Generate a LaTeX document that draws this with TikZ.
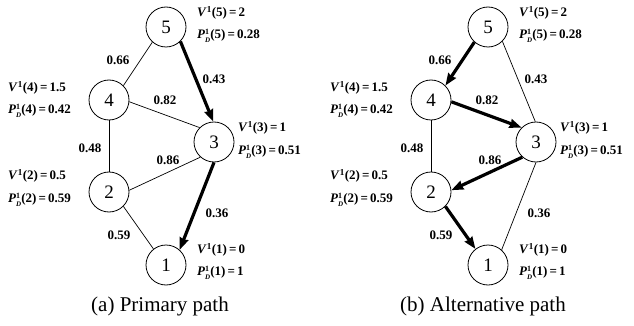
\documentclass[tikz,border=0pt]{standalone}
\usepackage{fontspec}
\setmainfont{Liberation Serif}
\usetikzlibrary{arrows.meta}

% node value labels: V^1(i) = v and P_D^1(i) = p
\newcommand{\Vlab}[2]{\textbf{\textit{V}\textsuperscript{1}(#1)\,=\,#2}}
\newcommand{\Plab}[2]{\textbf{\textit{P}\rlap{\raisebox{0.65ex}{\fontsize{8}{8}\selectfont 1}}\raisebox{-0.75ex}{\fontsize{7}{7}\selectfont\textit{D}}(#1)\,=\,#2}}

\tikzset{
  vertex/.style={circle, draw, line width=0.8pt, minimum size=40pt, inner sep=0pt,
                 font=\fontsize{19}{19}\selectfont},
  link/.style={line width=0.7pt},
  route/.style={line width=3.2pt, -{Stealth[length=12pt,width=9pt,inset=1pt]}},
  wlab/.style={font=\fontsize{13}{13}\selectfont\bfseries, inner sep=0pt},
  info/.style={anchor=west, font=\fontsize{13}{13}\selectfont, inner sep=0pt},
  caption/.style={font=\fontsize{21}{21}\selectfont, inner sep=0pt}
}

% the five-node network with its labels
\newcommand{\network}{%
  \node[vertex] (n5) at (166,27)  {5};
  \node[vertex] (n4) at (109,100) {4};
  \node[vertex] (n3) at (214,142) {3};
  \node[vertex] (n2) at (109,192) {2};
  \node[vertex] (n1) at (166,265) {1};
  \node[info] (v5) at (197,13)  {\Vlab{5}{2}};
  \node[info] (p5) at (197,36)  {\Plab{5}{0.28}};
  \node[info] (v4) at (8,88)    {\Vlab{4}{1.5}};
  \node[info] (p4) at (8,111)   {\Plab{4}{0.42}};
  \node[info] (v3) at (238,128) {\Vlab{3}{1}};
  \node[info] (p3) at (238,152) {\Plab{3}{0.51}};
  \node[info] (v2) at (8,176)   {\Vlab{2}{0.5}};
  \node[info] (p2) at (8,200)   {\Plab{2}{0.59}};
  \node[info] (v1) at (197,250) {\Vlab{1}{0}};
  \node[info] (p1) at (197,273) {\Plab{1}{1}};
  \node[wlab] (w54) at (118,60)  {0.66};
  \node[wlab] (w53) at (214,79)  {0.43};
  \node[wlab] (w43) at (165,100) {0.82};
  \node[wlab] (w42) at (90,148)  {0.48};
  \node[wlab] (w23) at (168,160) {0.86};
  \node[wlab] (w31) at (217,213) {0.36};
  \node[wlab] (w21) at (119,235) {0.59};
}

\begin{document}
\begin{tikzpicture}[x=1pt,y=-1pt]
\useasboundingbox (0,0) rectangle (634,326);

% (a) primary path
\begin{scope}[name prefix=a-]
  \network
  \draw[link] (n5.228) -- (n4.45);
  \draw[link] (n4.355) -- (n3.135);
  \draw[link] (n4.south) -- (n2.north);
  \draw[link] (n2.5) -- (n3.228);
  \draw[link] (n2.315) -- (n1.128);
  \draw[route] (n5.315) -- (n3.92);
  \draw[route] (n3.270) -- (n1.48);
\end{scope}
\node[caption] (capa) at (160,306) {(a) Primary path};

% (b) alternative path
\begin{scope}[xshift=322pt, name prefix=b-]
  \network
  \draw[link] (n5.315) -- (n3.92);
  \draw[link] (n4.south) -- (n2.north);
  \draw[link] (n3.270) -- (n1.48);
  \draw[route] (n5.228) -- (n4.45);
  \draw[route] (n4.355) -- (n3.135);
  \draw[route] (n3.228) -- (n2.5);
  \draw[route] (n2.315) -- (n1.128);
\end{scope}
\node[caption] (capb) at (483,306) {(b) Alternative path};
\end{tikzpicture}
\end{document}
